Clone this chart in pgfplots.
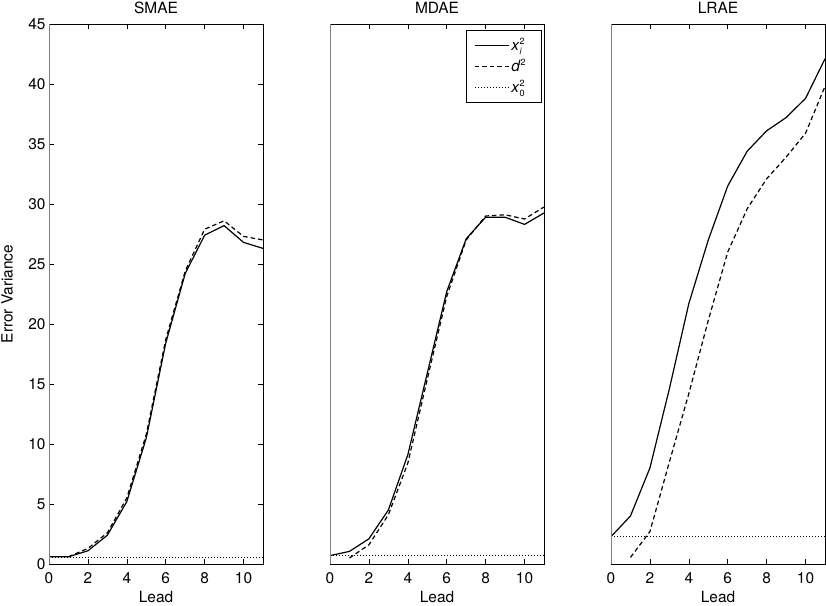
\documentclass[border=0pt]{standalone}
\usepackage{fontspec}
\setmainfont{TeX Gyre Heros}
\usepackage{pgfplots}
\pgfplotsset{compat=1.18}
\newcommand{\smallfs}{\fontsize{9}{10}\selectfont}
\newcommand{\supsub}[3]{#1\raisebox{0.5bp}{\smallfs\renewcommand{\arraystretch}{0.95}\begin{tabular}[c]{@{}l@{}}#2\\#3\end{tabular}}}
\newcommand{\lbox}[1]{\makebox[20bp][l]{#1}}
\begin{document}
\begin{tikzpicture}
\pgfplotsset{
  every axis/.append style={font=\fontsize{15.5}{18}\selectfont},
  every axis title shift=0pt,
  panel/.style={
    scale only axis, width=214bp, height=540bp, anchor=south west,
    xmin=0, xmax=11, ymin=0, ymax=45,
    xtick={0,2,4,6,8,10},
    tick align=inside, major tick length=5bp,
    tick style={black, line width=0.6bp},
    axis line style={black, line width=0.8bp},
    /pgf/number format/assume math mode=true,
    xlabel={Lead},
    xlabel style={at={(axis description cs:0.5,-0.0620)}, anchor=center, inner sep=0pt},
    title style={at={(axis description cs:0.5,1.0296)}, anchor=center, inner sep=0pt},
    xticklabel style={anchor=center, yshift=-14bp},
  },
  sol/.style={black, line width=1.2bp},
  das/.style={black, line width=1.2bp, dash pattern=on 4.5bp off 3bp},
  dot/.style={black, line width=1bp, dash pattern=on 1bp off 2bp},
}
% ---------------- SMAE
\begin{axis}[panel, at={(0bp,0bp)}, title={SMAE},
  ytick={0,5,...,45},
  ylabel={Error Variance},
  ylabel style={at={(axis description cs:-0.196,0.5)}, anchor=center}]
\addplot[sol] coordinates {(0,0.6) (1,0.6) (2,1.1) (3,2.4) (4,5.2) (5,10.5) (6,18.4) (7,24.2) (8,27.4) (9,28.2) (10,26.8) (11,26.3)};
\addplot[das] coordinates {(1,0.6) (2,1.3) (3,2.6) (4,5.5) (5,10.8) (6,18.7) (7,24.4) (8,27.9) (9,28.6) (10,27.3) (11,27.0)};
\addplot[dot] coordinates {(0,0.58) (11,0.58)};
\draw[gray, line width=1bp] (rel axis cs:0,0) -- (rel axis cs:0,1);
\end{axis}
% ---------------- MDAE
\begin{axis}[panel, at={(281bp,0bp)}, title={MDAE}, ytick=\empty,
  legend style={at={(0.99,0.989)}, anchor=north east, draw=black, line width=0.8bp,
    fill=white, cells={anchor=west}, inner xsep=8bp, inner ysep=6bp, row sep=3.5bp,
    font=\fontsize{15.5}{18}\selectfont},
  legend image code/.code={\draw[#1] (0bp,0bp) -- (34bp,0bp);}]
\addplot[sol] coordinates {(0,0.7) (1,1.05) (2,2.1) (3,4.5) (4,9.1) (5,15.9) (6,22.7) (7,27.1) (8,28.9) (9,28.9) (10,28.3) (11,29.25)};
\addlegendentry{\lbox{\supsub{\textit{x}}{2}{\textit{i}}}}
\addplot[das] coordinates {(1,0.5) (2,1.6) (3,4.1) (4,8.4) (5,15.4) (6,22.3) (7,27.0) (8,29.0) (9,29.1) (10,28.75) (11,29.75)};
\addlegendentry{\lbox{\textit{d}\raisebox{5.5bp}{\smallfs 2}}}
\addplot[dot] coordinates {(0,0.72) (11,0.72)};
\addlegendentry{\lbox{\supsub{\textit{x}}{2}{0}}}
\draw[gray, line width=1bp] (rel axis cs:0,0) -- (rel axis cs:0,1);
\end{axis}
% ---------------- LRAE
\begin{axis}[panel, at={(562bp,0bp)}, title={LRAE}, ytick=\empty]
\addplot[sol] coordinates {(0,2.28) (1,4.0) (2,8.0) (3,14.6) (4,21.7) (5,27.0) (6,31.5) (7,34.4) (8,36.1) (9,37.2) (10,38.8) (11,42.1)};
\addplot[das] coordinates {(1,0.55) (2,2.7) (3,8.5) (4,14.2) (5,20.3) (6,26.0) (7,29.6) (8,32.1) (9,33.9) (10,35.9) (11,39.8)};
\addplot[dot] coordinates {(0,2.28) (11,2.28)};
\draw[gray, line width=1bp] (rel axis cs:0,0) -- (rel axis cs:0,1);
\end{axis}
\pgfresetboundingbox
\useasboundingbox (-49bp,-42bp) rectangle (777bp,564bp);
\end{tikzpicture}
\end{document}
